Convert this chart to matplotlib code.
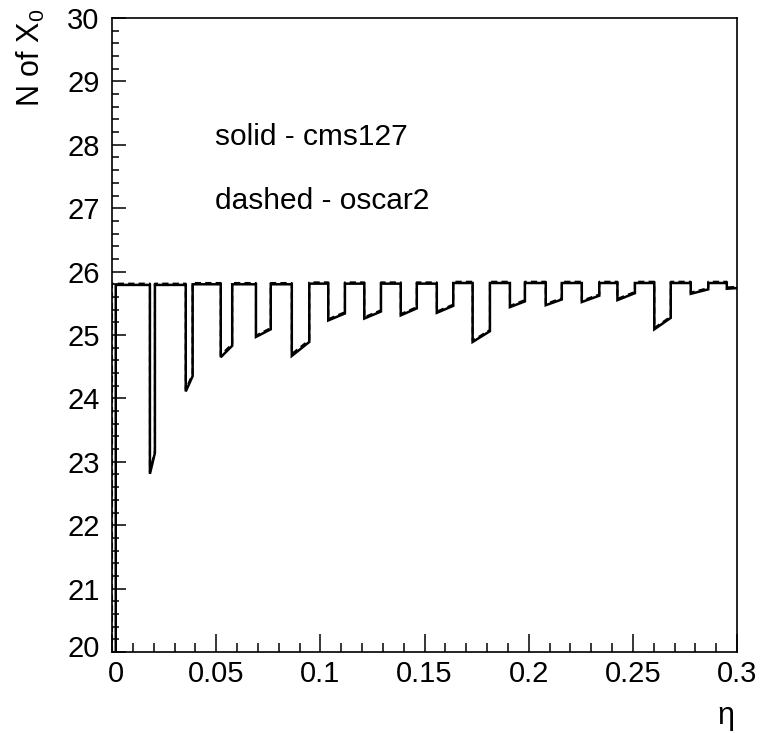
import matplotlib
matplotlib.use("Agg")
import matplotlib.pyplot as plt
import matplotlib.transforms as mtransforms

plt.rcParams['font.family'] = ['Liberation Sans', 'DejaVu Sans']
plt.rcParams['mathtext.fontset'] = 'custom'
plt.rcParams['mathtext.rm'] = 'Liberation Sans'
plt.rcParams['mathtext.it'] = 'Liberation Sans:italic'

# ---- data (eta positions of the dips and N of X0 values) ----
dip_start = [0.0182, 0.0354, 0.0522, 0.0691, 0.0863, 0.1038, 0.1211, 0.1386, 0.1559,
             0.1731, 0.1910, 0.2082, 0.2255, 0.2426, 0.2603, 0.2778, 0.2951]
dip_end = [0.0206, 0.0387, 0.0577, 0.0762, 0.0947, 0.1118, 0.1291, 0.1463, 0.1638,
           0.1814, 0.1982, 0.2159, 0.2339, 0.2510, 0.2682, 0.2862, 0.3000]

cms127_top = [25.79, 25.79, 25.80, 25.80, 25.80, 25.81, 25.81, 25.81, 25.81,
              25.82, 25.82, 25.82, 25.82, 25.82, 25.82, 25.82, 25.82]
cms127_low = [22.81, 24.11, 24.65, 24.97, 24.67, 25.23, 25.26, 25.31, 25.35,
              24.89, 25.44, 25.47, 25.52, 25.55, 25.09, 25.65, 25.73]
cms127_high = [23.14, 24.35, 24.83, 25.09, 24.89, 25.34, 25.37, 25.42, 25.46,
               25.06, 25.53, 25.56, 25.62, 25.66, 25.27, 25.72, 25.74]

oscar2_top = [25.81, 25.81, 25.82, 25.82, 25.82, 25.83, 25.83, 25.83, 25.83,
              25.84, 25.84, 25.84, 25.84, 25.84, 25.84, 25.84, 25.84]
oscar2_low = [22.84, 24.14, 24.68, 24.99, 24.70, 25.25, 25.28, 25.33, 25.37,
              24.91, 25.46, 25.49, 25.54, 25.57, 25.11, 25.67, 25.75]
oscar2_high = [23.17, 24.38, 24.86, 25.11, 24.92, 25.36, 25.39, 25.44, 25.48,
               25.08, 25.55, 25.58, 25.64, 25.68, 25.29, 25.74, 25.76]

cms127_first_edge = 0.0018
oscar2_first_edge = 0.0
baseline = 19.0

x_ticks = [0, 0.05, 0.1, 0.15, 0.2, 0.25, 0.3]
x_ticklabels = ['0', '0.05', '0.1', '0.15', '0.2', '0.25', '0.3']
y_ticks = [20, 21, 22, 23, 24, 25, 26, 27, 28, 29, 30]


def outline(first_edge, top, low, high):
    xs = [first_edge, first_edge]
    ys = [baseline, top[0]]
    for i in range(len(dip_start)):
        xs += [dip_start[i], dip_start[i], dip_end[i]]
        ys += [top[i], low[i], high[i]]
        if i + 1 < len(top) and i + 1 < len(dip_start):
            xs += [dip_end[i]]
            ys += [top[i + 1]]
    return xs, ys


fig = plt.figure(figsize=(7.75, 7.33), dpi=100)
ax = fig.add_axes([112 / 775, 1 - 652 / 733, 625 / 775, 634 / 733])

xs, ys = outline(cms127_first_edge, cms127_top, cms127_low, cms127_high)
ax.plot(xs, ys, color='black', lw=1.8, solid_joinstyle='miter')
xs, ys = outline(oscar2_first_edge, oscar2_top, oscar2_low, oscar2_high)
ax.plot(xs, ys, color='black', lw=1.5, dashes=(3, 2))

ax.set_xlim(0, 0.3)
ax.set_ylim(20, 30)
ax.set_xticks(x_ticks)
ax.set_xticklabels(x_ticklabels)
ax.set_yticks(y_ticks)
ax.set_yticklabels([str(v) for v in y_ticks])
ax.set_xticks([i * 0.01 for i in range(31)], minor=True)
ax.set_yticks([20 + i * 0.2 for i in range(51)], minor=True)
ax.tick_params(axis='both', which='both', direction='in', top=False, right=False,
               labelsize=21, width=1.1, color='black')
ax.tick_params(axis='x', which='major', length=13, pad=6)
ax.tick_params(axis='x', which='minor', length=6.5)
ax.tick_params(axis='y', which='major', length=10, pad=9)
ax.tick_params(axis='y', which='minor', length=5)
for s in ax.spines.values():
    s.set_linewidth(1.2)

# ROOT-like nudges for the labels at the origin
xl0 = ax.get_xticklabels()[0]
xl0.set_transform(xl0.get_transform() + mtransforms.ScaledTranslation(4 / 100, 0, fig.dpi_scale_trans))
yl0 = ax.get_yticklabels()[0]
yl0.set_transform(yl0.get_transform() + mtransforms.ScaledTranslation(0, 6 / 100, fig.dpi_scale_trans))

ax.text(0.0494, 28.0, 'solid - cms127', fontsize=21.5, ha='left', va='baseline')
ax.text(0.0494, 26.98, 'dashed - oscar2', fontsize=21.5, ha='left', va='baseline')

fig.text(31 / 775, 1 - 9 / 733, r'N of X$_{\mathregular{0}}$', rotation=90,
         fontsize=22, ha='center', va='top')
fig.text(734 / 775, 1 - 724 / 733, 'η', fontsize=22, ha='right', va='baseline')

fig.savefig('out.png', dpi=100)
